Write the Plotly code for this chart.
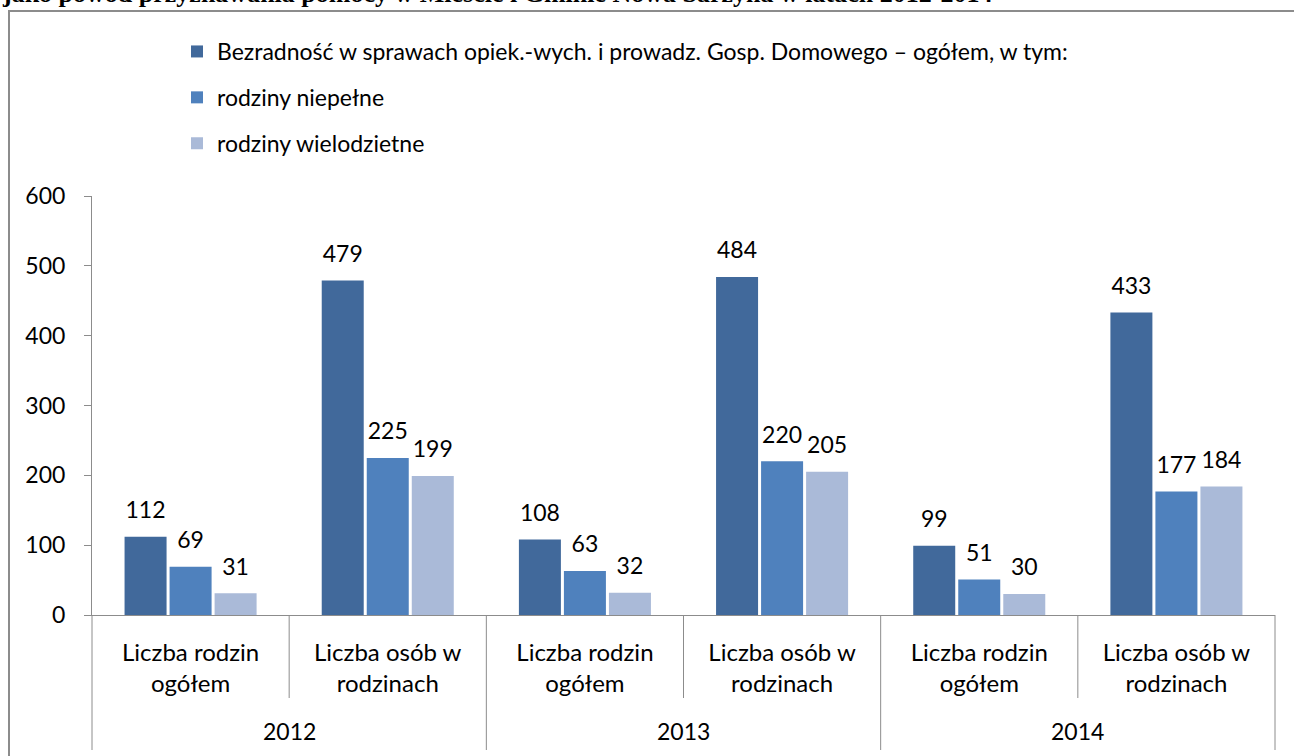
import plotly.graph_objects as go

# ---- data ----
years = ["2012", "2013", "2014"]
categories = ["Liczba rodzin<br>ogółem", "Liczba osób w<br>rodzinach"]
series_names = [
    "Bezradność w sprawach opiek.-wych. i prowadz. Gosp. Domowego – ogółem, w tym:",
    "rodziny niepełne",
    "rodziny wielodzietne",
]
bezradnosc = [112, 479, 108, 484, 99, 433]
niepelne = [69, 225, 63, 220, 51, 177]
wielodzietne = [31, 199, 32, 205, 30, 184]
y_ticks = [0, 100, 200, 300, 400, 500, 600]
title_text = "jako powód przyznawania pomocy w Mieście i Gminie Nowa Sarzyna w latach 2012-2014"

colors = ["#41699B", "#4F81BD", "#AABAD8"]
FONT = "Lato"
FS = 23

tick_labels = [c for _ in years for c in categories]
xs = list(range(len(tick_labels)))
series = [bezradnosc, niepelne, wielodzietne]

W, H = 1294, 756
L, R, T, B = 92, 19, 196, 141
PH = H - T - B
PW = W - L - R


def py(px):  # pixel y -> paper y
    return (H - B - px) / PH


def pxx(px):  # pixel x -> paper x
    return (px - L) / PW


fig = go.Figure()
for i, (name, vals) in enumerate(zip(series_names, series)):
    fig.add_trace(go.Bar(
        x=xs, y=vals, name=name, marker=dict(color=colors[i], line=dict(width=0)),
        offsetgroup=f"g{i}", legendgroup=f"g{i}", hoverinfo="skip",
    ))
for i, vals in enumerate(series):
    fig.add_trace(go.Scatter(
        x=xs, y=vals, mode="markers+text", text=[str(v) for v in vals],
        textposition="top center", textfont=dict(family=FONT, size=FS, color="black"),
        marker=dict(size=19, color="rgba(0,0,0,0)"), offsetgroup=f"g{i}",
        legendgroup=f"g{i}", showlegend=False, hoverinfo="skip", cliponaxis=False,
    ))

shapes = []
# border box of the chart
shapes.append(dict(type="rect", xref="paper", yref="paper",
                   x0=pxx(9), x1=pxx(1340), y0=py(800), y1=py(11),
                   line=dict(color="#8C8C8C", width=2), layer="below"))
# category separators
n = len(tick_labels)
for k in range(n + 1):
    outer = (k % len(categories) == 0)
    shapes.append(dict(type="line", xref="x domain", yref="paper",
                       x0=k / n, x1=k / n, y0=0, y1=py(750 if outer else 698),
                       line=dict(color="#8C8C8C", width=1)))

annotations = []
for j, yr in enumerate(years):
    annotations.append(dict(x=j * len(categories) + (len(categories) - 1) / 2, xref="x",
                            y=py(731), yref="paper", text=yr, showarrow=False,
                            font=dict(family=FONT, size=FS, color="black"),
                            xanchor="center", yanchor="middle"))
annotations.append(dict(x=pxx(0), xref="paper", y=py(-7), yref="paper", text="<b>" + title_text + "</b>",
                        showarrow=False, xanchor="left", yanchor="middle",
                        font=dict(family="Liberation Serif", size=26, color="black")))

fig.update_layout(
    width=W, height=H,
    margin=dict(l=L, r=R, t=T, b=B, autoexpand=False),
    paper_bgcolor="white", plot_bgcolor="white",
    barmode="group", bargap=0.315, bargroupgap=0.067,
    scattermode="group",
    font=dict(family=FONT, size=FS, color="black"),
    showlegend=True,
    legend=dict(x=pxx(177), y=py(30), xanchor="left", yanchor="top",
                font=dict(family=FONT, size=FS, color="black"),
                tracegroupgap=13, bgcolor="rgba(0,0,0,0)", traceorder="grouped"),
    xaxis=dict(range=[-0.5, n - 0.5], tickmode="array", tickvals=xs, ticktext=tick_labels,
               ticks="", showline=True, linecolor="#8C8C8C", linewidth=1,
               showgrid=False, zeroline=False, ticklabelstandoff=16,
               tickfont=dict(family=FONT, size=24, color="black")),
    yaxis=dict(range=[0, 600], tickmode="array", tickvals=y_ticks,
               ticks="outside", ticklen=7, tickcolor="#8C8C8C", showline=True,
               linecolor="#8C8C8C", linewidth=1, showgrid=False, zeroline=False,
               ticklabelstandoff=14, tickfont=dict(family=FONT, size=FS, color="black")),
    shapes=shapes, annotations=annotations,
)

fig.write_html("out.html", config={"displayModeBar": False},
               post_script="document.body.style.margin='0';document.body.style.overflow='hidden';")
